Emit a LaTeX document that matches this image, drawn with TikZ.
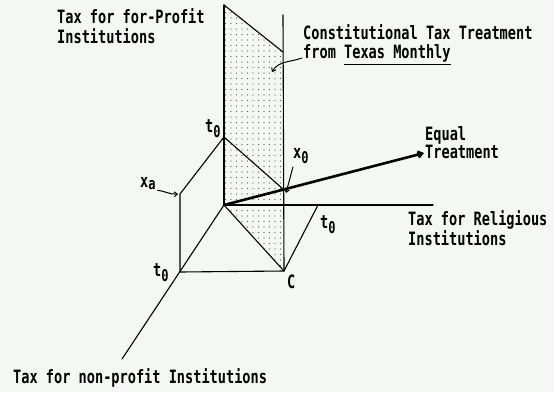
\documentclass[tikz,border=0pt]{standalone}
\usepackage{fontspec}
\setmonofont{DejaVu Sans Mono}
\usetikzlibrary{arrows.meta,patterns.meta}
\definecolor{bg}{RGB}{244,247,243}
\newcommand\lb[1]{\scalebox{1}[1.35]{#1}}
\newcommand\lbt[1]{\scalebox{1}[1.35]{\begin{tabular}[t]{@{}l@{}}#1\end{tabular}}}
\begin{document}
\begin{tikzpicture}[x=1pt,y=-1pt,
  ax/.style={line width=1.1pt, line cap=round, line join=round},
  thickax/.style={line width=2.6pt, line cap=round},
  lbl/.style={font=\ttfamily\bfseries\fontsize{13.6}{13}\selectfont, inner sep=0pt, anchor=base west},
  arr/.style={line width=1pt, -{Straight Barb[length=3pt,width=5pt]}},
]
\fill[bg] (0,0) rectangle (554,392);
\useasboundingbox (0,0) rectangle (554,392);

% key points
\coordinate (O) at (224,205);
\coordinate (top) at (224,5);
\coordinate (pr) at (283,52);
\coordinate (prtop) at (283,15);
\coordinate (C) at (284,271);
\coordinate (ttop) at (224,137);
\coordinate (x0) at (283,189);
\coordinate (xa) at (180,194);
\coordinate (tlow) at (180,272);
\coordinate (tright) at (318,205);
\coordinate (hend) at (433,205);
\coordinate (dend) at (122,359);
\coordinate (eq) at (424,153);

% shaded plane
\fill[pattern={Dots[distance=5.5pt,radius=0.7pt]}, pattern color=black!65] (O) -- (top) -- (pr) -- (C) -- cycle;

% axes and edges
\draw[ax] (top) -- (O);
\draw[ax] (top) -- (pr);
\draw[ax] (prtop) -- (C);
\draw[ax] (O) -- (hend);
\draw[ax] (O) -- (dend);
\draw[ax] (O) -- (C);
\draw[ax] (ttop) -- (x0);
\draw[ax] (ttop) -- (xa) -- (tlow) -- (C) -- (tright);
\draw[thickax, -{Straight Barb[length=4pt,width=6pt]}] (O) -- (eq);

% labels
\node[lbl] (lfp) at (57,23) {\lbt{Tax for for-Profit\\Institutions}};
\node[lbl] (lct) at (303,39) {\lbt{Constitutional Tax Treatment\\from \underline{Texas Monthly}}};
\node[lbl] (leq) at (425,140) {\lbt{Equal\\Treatment}};
\node[lbl] (lrel) at (408,225) {\lbt{Tax for Religious\\Institutions}};
\node[lbl] (lnp) at (13,383) {\lb{Tax for non-profit Institutions}};
\node[lbl] (lttop) at (205,132) {\lb{t\textsubscript{\large 0}}};
\node[lbl] (lxa) at (140,187) {\lb{x\textsubscript{\large a}}};
\node[lbl] (lx0) at (293,158) {\lb{x\textsubscript{\large 0}}};
\node[lbl] (ltlow) at (153,276) {\lb{t\textsubscript{\large 0}}};
\node[lbl] (ltright) at (320,228) {\lb{t\textsubscript{\large 0}}};
\node[lbl] (lC) at (287,288) {\lb{C}};

% pointer arrows
\draw[arr] ([xshift=-1pt,yshift=-3pt]lct.west |- 0,55) to[out=200,in=60] (272,72);
\draw[arr] ([xshift=1pt]lxa.south east) to[out=-5,in=185] ([xshift=-2pt]xa);
\draw[arr] ([yshift=-3pt]lx0.south west) -- ([xshift=3pt,yshift=-4pt]x0);
\end{tikzpicture}
\end{document}
